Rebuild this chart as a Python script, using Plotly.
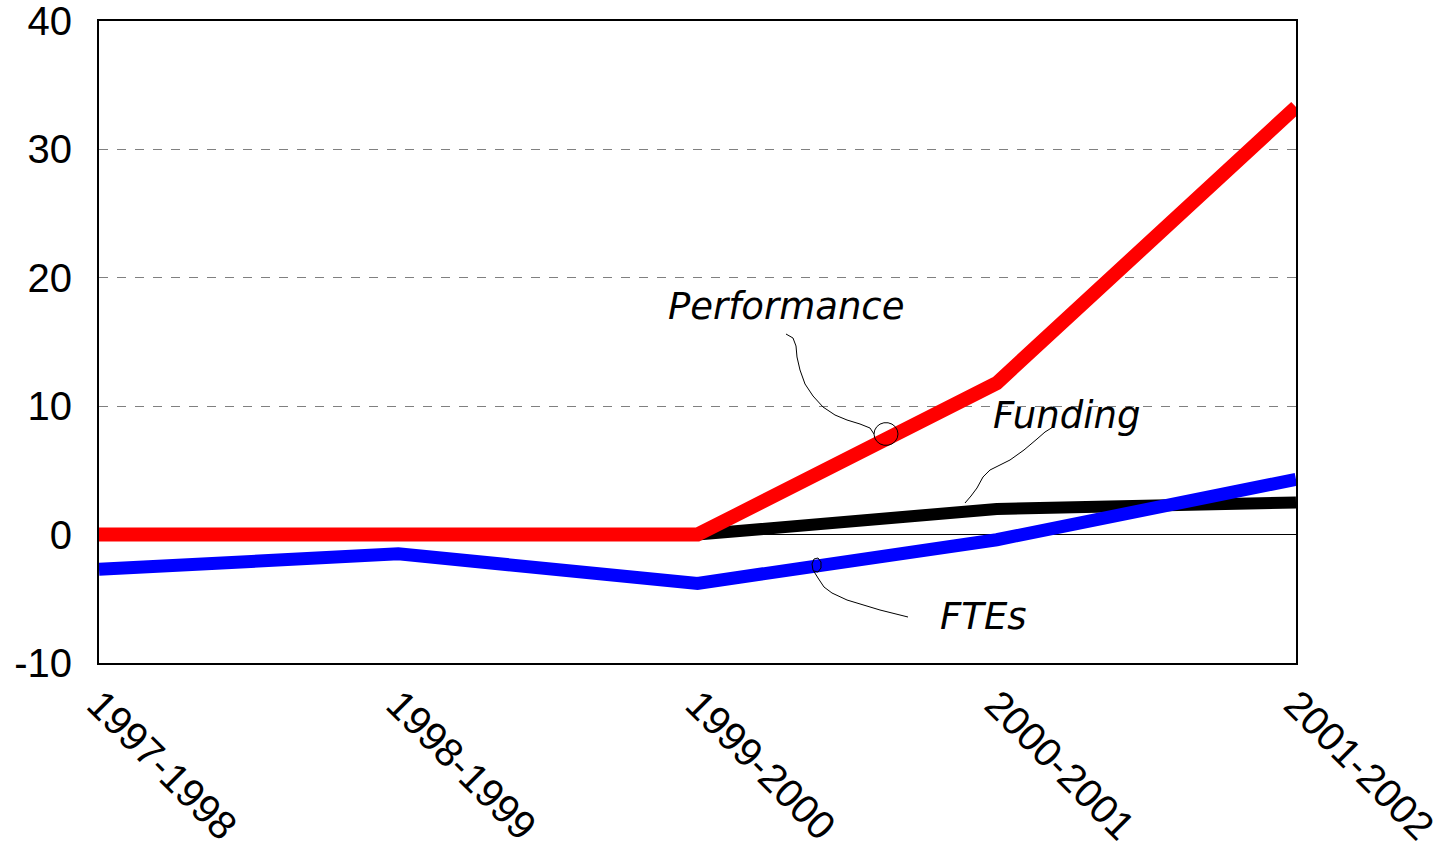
import math
import plotly.graph_objects as go

years = ["1997-1998", "1998-1999", "1999-2000", "2000-2001", "2001-2002"]
performance = [0, 0, 0, 11.8, 33.3]
funding = [0, 0, 0, 2.0, 2.5]
ftes = [-2.7, -1.5, -3.8, -0.4, 4.3]
y_ticks = [-10, 0, 10, 20, 30, 40]
y_tick_text = ["-10", "0", "10", "20", "30", "40"]

fig = go.Figure()
fig.add_trace(go.Scatter(x=years, y=funding, mode="lines", name="Funding",
                         line=dict(color="#000000", width=12)))
fig.add_trace(go.Scatter(x=years, y=ftes, mode="lines", name="FTEs",
                         line=dict(color="#0000ff", width=13)))
fig.add_trace(go.Scatter(x=years, y=performance, mode="lines", name="Performance",
                         line=dict(color="#ff0000", width=14)))

# plot area in screen pixels
L, R, T, B = 99, 1296, 21, 663


def px(xp, yp):
    return (xp - L) / (R - L), (B - yp) / (B - T)


def path_from(points):
    s = ""
    for i, (a, b) in enumerate(points):
        x, y = px(a, b)
        s += ("M" if i == 0 else "L") + f"{x:.5f},{y:.5f} "
    return s.strip()


perf_pts = [(786, 334), (793, 338), (796, 346), (797, 357), (800, 370), (805, 384),
            (813, 396), (823, 407), (835, 415), (847, 420), (860, 424), (870, 428), (874, 434)]
cx, cy, r = 886, 434, 12
for k in range(0, 361, 20):
    a = math.radians(180 + k)
    perf_pts.append((cx + r * math.cos(a), cy - r * math.sin(a) * 0.95))

fund_pts = [(1053, 427), (1045, 432), (1037, 439), (1024, 450), (1010, 460),
            (998, 466), (990, 470), (983, 477), (977, 488), (971, 496), (965, 503)]

fte_pts = [(908, 617), (880, 610), (847, 600), (832, 593), (824, 587), (818, 578),
           (813, 570), (812, 564), (814, 559), (818, 558), (821, 562), (821, 568), (818, 572), (814, 571)]

shapes = []
for pts in (perf_pts, fund_pts, fte_pts):
    shapes.append(dict(type="path", xref="paper", yref="paper", path=path_from(pts),
                       line=dict(color="#000000", width=1)))

ann_font = dict(family="DejaVu Sans", size=37, color="#000000")
annotations = []
for text, (xp, yp) in [("<i>Performance</i>", (786, 306)),
                       ("<i>Funding</i>", (1066, 415)),
                       ("<i>FTEs</i>", (983, 616))]:
    x, y = px(xp, yp)
    annotations.append(dict(text=text, x=x, y=y, xref="paper", yref="paper",
                            showarrow=False, xanchor="center", yanchor="middle",
                            font=ann_font))

fig.update_layout(
    width=1449, height=856,
    margin=dict(l=L, r=1449 - R, t=T, b=856 - B, autoexpand=False),
    paper_bgcolor="#ffffff", plot_bgcolor="#ffffff",
    showlegend=False,
    font=dict(family="Liberation Sans, Arial", size=40, color="#000000"),
    shapes=shapes,
    annotations=annotations,
    xaxis=dict(
        type="category", range=[0, 4], tickangle=45,
        showgrid=False, showline=True, linecolor="#000000", linewidth=2,
        mirror=True, ticks="", zeroline=False, layer="above traces",
        tickfont=dict(size=40), automargin=False,
    ),
    yaxis=dict(
        range=[-10, 40], tickvals=y_ticks, ticktext=y_tick_text,
        showgrid=True, gridcolor="#808080", griddash="dash", gridwidth=1,
        showline=True, linecolor="#000000", linewidth=2, mirror=True,
        ticks="", zeroline=True, zerolinecolor="#000000", zerolinewidth=1,
        layer="above traces", tickfont=dict(size=40), automargin=False,
        ticklabelstandoff=17, ticklabeloverflow="allow",
    ),
)

fig.write_html("out.html", config={"displayModeBar": False},
               post_script="document.body.style.margin='0';document.body.style.overflow='hidden';")
